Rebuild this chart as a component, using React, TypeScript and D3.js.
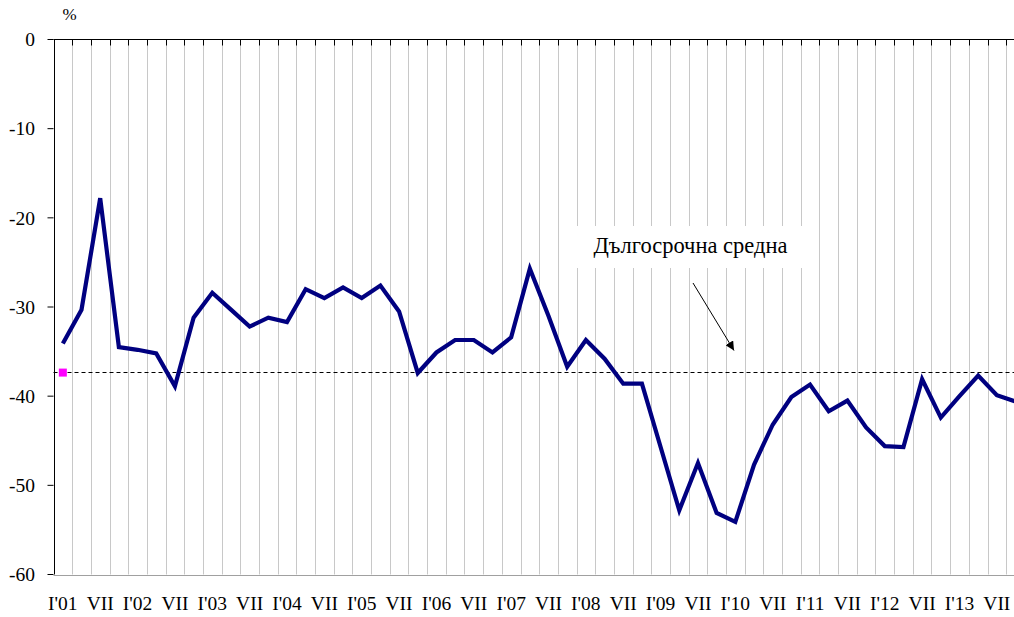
import React, { useEffect, useRef } from "react";
import * as d3 from "d3";

// quarterly balance, %, I'2001 .. X'2013
const values = [
  -34.1, -30.3, -17.8, -34.5, -34.8, -35.2, -38.9, -31.2, -28.4, -30.3, -32.2, -31.2,
  -31.7, -28.0, -29.0, -27.8, -29.0, -27.6, -30.5, -37.4, -35.1, -33.7, -33.7, -35.1,
  -33.4, -25.7, -31.0, -36.7, -33.7, -35.8, -38.6, -38.6, -45.7, -52.8, -47.5, -53.1,
  -54.1, -47.7, -43.2, -40.1, -38.7, -41.7, -40.5, -43.5, -45.6, -45.7, -38.1, -42.4,
  -40.0, -37.7, -39.9, -40.6,
];
const years = d3.range(2001, 2014);
const quarters = ["I", "IV", "VII", "X"];
const categories = years.flatMap((y) => quarters.map((q) => `${q}'${String(y).slice(2)}`));
const yTicks = [0, -10, -20, -30, -40, -50, -60];
const longTermAverage = -37.3;
const annotation = "Дългосрочна средна";

const W = 1014;
const H = 617;
const margin = { left: 53.5, top: 39.5, bottom: 42.5 };
const step = 18.68;
const FONT = "'Liberation Serif', 'Times New Roman', serif";

const colors = {
  line: "#000080",
  grid: "#c8c8c8",
  marker: "#ff00ff",
  axis: "#000000",
};

export default function App() {
  const ref = useRef<SVGSVGElement>(null);

  useEffect(() => {
    const svg = d3.select(ref.current);
    svg.selectAll("*").remove();

    const x = d3
      .scaleBand<string>()
      .domain(categories)
      .range([margin.left, margin.left + categories.length * step])
      .paddingInner(0)
      .paddingOuter(0);
    const y = d3.scaleLinear().domain([-60, 0]).range([H - margin.bottom, margin.top]);
    const cx = (i: number) => (x(categories[i]) as number) + x.bandwidth() / 2;

    // vertical grid at category boundaries
    const bounds = categories.map((c) => (x(c) as number) + x.bandwidth());
    svg
      .append("g")
      .selectAll("line")
      .data(bounds)
      .join("line")
      .attr("x1", (d) => Math.round(d) + 0.5)
      .attr("x2", (d) => Math.round(d) + 0.5)
      .attr("y1", y(0))
      .attr("y2", y(-60))
      .attr("stroke", colors.grid)
      .attr("stroke-width", 1);

    // bottom border
    svg
      .append("line")
      .attr("x1", margin.left)
      .attr("x2", W)
      .attr("y1", Math.round(y(-60)) + 0.5)
      .attr("y2", Math.round(y(-60)) + 0.5)
      .attr("stroke", "#a0a0a0");

    // category axis at 0 with inward ticks
    svg
      .append("line")
      .attr("x1", margin.left)
      .attr("x2", W)
      .attr("y1", y(0))
      .attr("y2", y(0))
      .attr("stroke", colors.axis);
    svg
      .append("g")
      .selectAll("line")
      .data(bounds)
      .join("line")
      .attr("x1", (d) => Math.round(d) + 0.5)
      .attr("x2", (d) => Math.round(d) + 0.5)
      .attr("y1", y(0))
      .attr("y2", y(0) + 6)
      .attr("stroke", colors.axis);

    // category labels (every half-year)
    svg
      .append("g")
      .selectAll("text")
      .data(categories.map((c, i) => ({ c, i })).filter((d) => d.i % 2 === 0))
      .join("text")
      .attr("x", (d) => cx(d.i))
      .attr("y", 610)
      .attr("text-anchor", "middle")
      .attr("font-family", FONT)
      .attr("font-size", 19.5)
      .text((d) => (d.i % 4 === 0 ? d.c : "VII"));

    // value axis
    svg
      .append("line")
      .attr("x1", Math.round(margin.left) + 0.5)
      .attr("x2", Math.round(margin.left) + 0.5)
      .attr("y1", y(0))
      .attr("y2", y(-60))
      .attr("stroke", colors.axis);
    const yAxis = svg.append("g");
    yAxis
      .selectAll("line")
      .data(yTicks)
      .join("line")
      .attr("x1", margin.left - 6)
      .attr("x2", margin.left)
      .attr("y1", (d) => y(d))
      .attr("y2", (d) => y(d))
      .attr("stroke", colors.axis);
    yAxis
      .selectAll("text")
      .data(yTicks)
      .join("text")
      .attr("x", 35)
      .attr("y", (d) => y(d))
      .attr("dy", "0.35em")
      .attr("text-anchor", "end")
      .attr("font-family", FONT)
      .attr("font-size", 19.5)
      .text((d) => String(d));

    svg
      .append("text")
      .attr("x", 69.5)
      .attr("y", 20)
      .attr("text-anchor", "middle")
      .attr("font-family", FONT)
      .attr("font-size", 17)
      .text("%");

    // long-term average
    svg
      .append("line")
      .attr("x1", margin.left)
      .attr("x2", W)
      .attr("y1", Math.round(y(longTermAverage)) + 0.5)
      .attr("y2", Math.round(y(longTermAverage)) + 0.5)
      .attr("stroke", "#000")
      .attr("stroke-dasharray", "4,3");
    svg
      .append("rect")
      .attr("x", cx(0) - 4)
      .attr("y", y(longTermAverage) - 3.5)
      .attr("width", 8)
      .attr("height", 8)
      .attr("fill", colors.marker);

    // series
    const line = d3
      .line<number>()
      .x((_, i) => cx(i))
      .y((d) => y(d));
    svg
      .append("path")
      .datum(values)
      .attr("d", line)
      .attr("fill", "none")
      .attr("stroke", colors.line)
      .attr("stroke-width", 4.2)
      .attr("stroke-linejoin", "miter");

    // annotation
    svg
      .append("rect")
      .attr("x", 573)
      .attr("y", 226)
      .attr("width", 235)
      .attr("height", 42)
      .attr("fill", "#fff");
    svg
      .append("text")
      .attr("x", 690.5)
      .attr("y", 253)
      .attr("text-anchor", "middle")
      .attr("font-family", FONT)
      .attr("font-size", 22.5)
      .text(annotation);

    svg
      .append("defs")
      .append("marker")
      .attr("id", "arrow")
      .attr("viewBox", "0 0 10 10")
      .attr("refX", 10)
      .attr("refY", 5)
      .attr("markerWidth", 9)
      .attr("markerHeight", 9)
      .attr("markerUnits", "userSpaceOnUse")
      .attr("orient", "auto")
      .append("path")
      .attr("d", "M0,0 L10,5 L0,10 z")
      .attr("fill", "#000");
    svg
      .append("line")
      .attr("x1", 693)
      .attr("y1", 283)
      .attr("x2", 734)
      .attr("y2", 350.5)
      .attr("stroke", "#000")
      .attr("stroke-width", 1)
      .attr("marker-end", "url(#arrow)");
  }, []);

  return (
    <svg
      ref={ref}
      width={W}
      height={H}
      style={{ position: "absolute", left: 0, top: 0, background: "#fff" }}
    />
  );
}
